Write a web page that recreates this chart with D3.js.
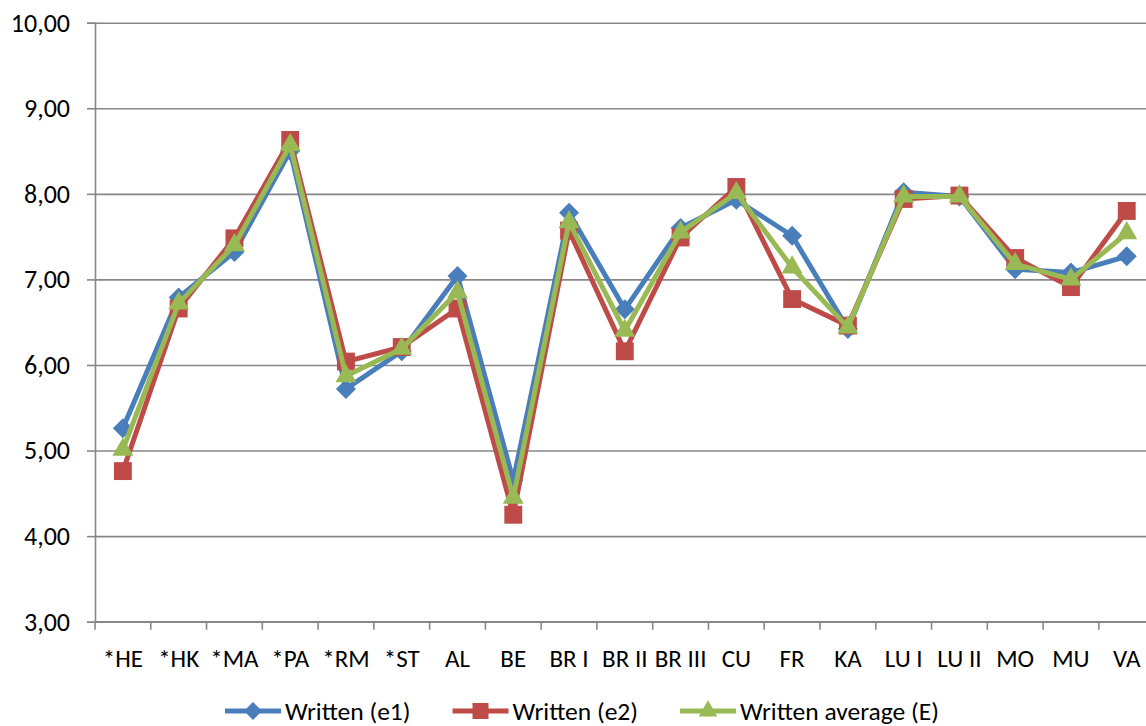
<!DOCTYPE html>
<html>
<head>
<meta charset="utf-8">
<script src="https://cdn.jsdelivr.net/npm/d3@7"></script>
<style>
  html, body { margin: 0; padding: 0; background: #fff; }
  svg { display: block; font-family: Carlito, Calibri, Lato, "Open Sans", sans-serif; }
</style>
</head>
<body>
<svg id="chart" width="1146" height="726"></svg>
<script>
// ---- data ----
const categories = ["*HE","*HK","*MA","*PA","*RM","*ST","AL","BE","BR I","BR II","BR III","CU","FR","KA","LU I","LU II","MO","MU","VA"];
const writtenE1  = [5.26, 6.79, 7.32, 8.50, 5.72, 6.16, 7.04, 4.65, 7.78, 6.65, 7.60, 7.93, 7.51, 6.42, 8.02, 7.97, 7.12, 7.08, 7.27];
const writtenE2  = [4.76, 6.66, 7.48, 8.63, 6.04, 6.21, 6.66, 4.25, 7.57, 6.16, 7.49, 8.08, 6.77, 6.46, 7.94, 7.98, 7.25, 6.91, 7.80];
const writtenAvg = [5.01, 6.72, 7.40, 8.57, 5.87, 6.19, 6.85, 4.45, 7.67, 6.40, 7.55, 8.01, 7.14, 6.44, 7.97, 7.97, 7.18, 7.00, 7.54];
const yTicks     = [3, 4, 5, 6, 7, 8, 9, 10];
const seriesNames = ["Written (e1)", "Written (e2)", "Written average (E)"];

(function () {
// ---- layout ----
const svg = d3.select("#chart");
const mLeft = 95, mTop = 22.7, mBottom = 621.7, bandW = 55.77;
const mRight = mLeft + bandW * categories.length;

const x = d3.scaleBand().domain(categories).range([mLeft, mRight]).paddingInner(0).paddingOuter(0);
const y = d3.scaleLinear().domain([3, 10]).range([mBottom, mTop]);

const gridColor = "#878787";

// gridlines
svg.append("g")
  .attr("transform", `translate(${mLeft},0)`)
  .call(d3.axisLeft(y).tickValues(yTicks).tickSize(-(mRight - mLeft)).tickFormat(""))
  .call(g => g.select(".domain").remove())
  .call(g => g.selectAll("line").attr("stroke", gridColor).attr("stroke-width", 1.6));

// y axis
svg.append("g")
  .attr("transform", `translate(${mLeft},0)`)
  .call(d3.axisLeft(y).tickValues(yTicks).tickSize(8).tickPadding(17)
        .tickFormat(d => d3.format(".2f")(d).replace(".", ",")))
  .call(g => g.select(".domain").attr("stroke", gridColor).attr("stroke-width", 1.6))
  .call(g => g.selectAll("line").attr("stroke", gridColor).attr("stroke-width", 1.6))
  .call(g => g.selectAll("text").attr("fill", "#000").attr("font-size", 26)
        .attr("font-family", "Carlito, Calibri, Lato, sans-serif"));

// x axis baseline + boundary ticks
const xg = svg.append("g");
xg.append("line").attr("x1", mLeft).attr("x2", mRight).attr("y1", mBottom).attr("y2", mBottom)
  .attr("stroke", gridColor).attr("stroke-width", 1.6);
const bounds = categories.map(c => x(c)).concat([x(categories[categories.length - 1]) + x.bandwidth()]);
xg.selectAll("line.tk").data(bounds).join("line").attr("class", "tk")
  .attr("x1", d => d).attr("x2", d => d).attr("y1", mBottom).attr("y2", mBottom + 8)
  .attr("stroke", gridColor).attr("stroke-width", 1.6);
xg.selectAll("text").data(categories).join("text")
  .attr("x", d => x(d) + x.bandwidth() / 2).attr("y", 667)
  .attr("text-anchor", "middle").attr("font-size", 25).attr("fill", "#000")
  .text(d => d);

// series
const colors = ["#4A7EBB", "#BE4B48", "#98B954"];
const symbols = [
  { type: d3.symbolSquare, size: 200, rotate: 45 },
  { type: d3.symbolSquare, size: 320, rotate: 0 },
  { type: d3.symbolTriangle, size: 190, rotate: 0 }
];
const allSeries = [writtenE1, writtenE2, writtenAvg];
const line = d3.line().x((d, i) => x(categories[i]) + x.bandwidth() / 2).y(d => y(d));

allSeries.forEach((vals, s) => {
  const g = svg.append("g");
  g.append("path").datum(vals).attr("d", line)
    .attr("fill", "none").attr("stroke", colors[s]).attr("stroke-width", 5)
    .attr("stroke-linejoin", "round");
  g.selectAll("path.m").data(vals).join("path").attr("class", "m")
    .attr("d", d3.symbol().type(symbols[s].type).size(symbols[s].size))
    .attr("transform", (d, i) => `translate(${x(categories[i]) + x.bandwidth() / 2},${y(d)}) rotate(${symbols[s].rotate})`)
    .attr("fill", colors[s]);
});

// legend
const legend = svg.append("g");
let lx = 225;
const ly = 711;
seriesNames.forEach((name, s) => {
  const g = legend.append("g");
  g.append("line").attr("x1", lx).attr("x2", lx + 56).attr("y1", ly).attr("y2", ly)
    .attr("stroke", colors[s]).attr("stroke-width", 5);
  g.append("path")
    .attr("d", d3.symbol().type(symbols[s].type).size(symbols[s].size * 0.8))
    .attr("transform", `translate(${lx + 28},${ly}) rotate(${symbols[s].rotate})`)
    .attr("fill", colors[s]);
  const t = g.append("text").attr("x", lx + 60).attr("y", ly + 8.5)
    .attr("font-size", 25.5).attr("fill", "#000").text(name);
  lx += 60 + t.node().getComputedTextLength() + 42;
});
})();
</script>
</body>
</html>
